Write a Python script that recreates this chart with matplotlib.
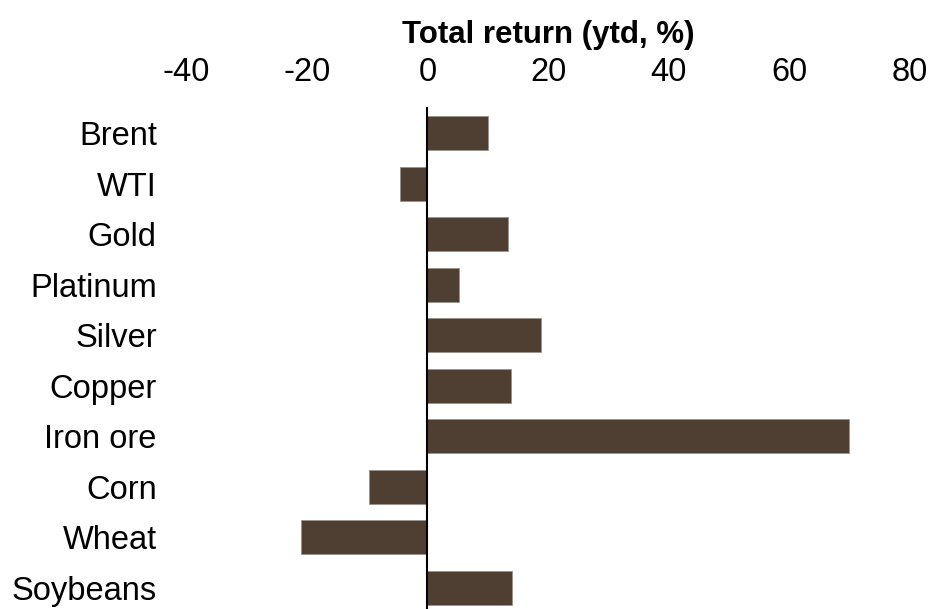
import numpy as np
import matplotlib.pyplot as plt

plt.rcParams['font.family'] = ['Liberation Sans', 'DejaVu Sans']

commodities = ['Brent', 'WTI', 'Gold', 'Platinum', 'Silver', 'Copper',
               'Iron ore', 'Corn', 'Wheat', 'Soybeans']
ytd_return = [10.0, -4.6, 13.3, 5.3, 18.8, 13.8, 69.9, -9.6, -20.9, 14.0]
xticks = [-40, -20, 0, 20, 40, 60, 80]

fig = plt.figure(figsize=(9.34, 6.09), dpi=100)
ax = fig.add_axes([186 / 934, 0, (910 - 186) / 934, (609 - 107) / 609])

y = np.arange(len(commodities))
ax.barh(y, ytd_return, height=0.67, color='#4f3e32', edgecolor='#9a928c', linewidth=0.6)
ax.axvline(0, color='black', lw=1.5)

ax.set_xlim(-40, 80)
ax.set_ylim(9.42, -0.52)
ax.set_xticks(xticks)
ax.set_xticklabels([str(v) for v in xticks])
ax.set_yticks(y)
ax.set_yticklabels(commodities)
ax.xaxis.tick_top()
ax.tick_params(axis='x', length=0, pad=14, labelsize=23.5)
ax.tick_params(axis='y', length=0, pad=21, labelsize=23.5)
for s in ax.spines.values():
    s.set_visible(False)

ax.set_title('Total return (ytd, %)', fontsize=22.5, fontweight='bold', pad=46)

fig.savefig('out.png', dpi=100)
